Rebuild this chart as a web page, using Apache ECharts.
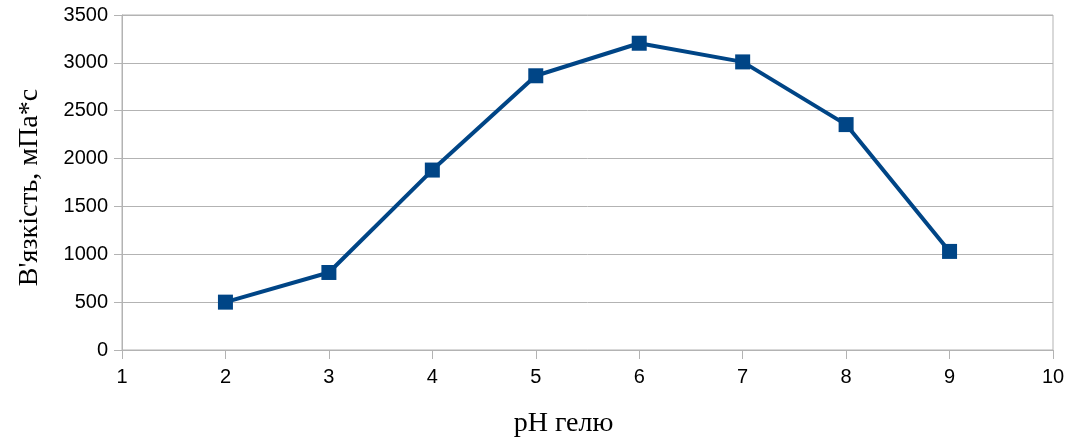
<!DOCTYPE html>
<html>
<head>
<meta charset="utf-8">
<script src="https://cdn.jsdelivr.net/npm/echarts@6/dist/echarts.min.js"></script>
<style>
  html, body { margin: 0; padding: 0; background: #fff; }
  #chart { width: 1072px; height: 439px; }
</style>
</head>
<body>
<div id="chart"></div>
<script>
// дані з графіка
var phValues = [2, 3, 4, 5, 6, 7, 8, 9];
var viscosity = [500, 810, 1880, 2865, 3205, 3010, 2355, 1030];
var xName = 'pH гелю';
var yName = "В'язкість, мПа*с";

var chart = echarts.init(document.getElementById('chart'));

var points = phValues.map(function (x, i) { return [x, viscosity[i]]; });

var option = {
    animation: false,
    backgroundColor: '#ffffff',
    grid: {
        left: 122, right: 19, top: 15, bottom: 89,
        outerBoundsMode: 'none',
        show: true, borderColor: '#b3b3b3', borderWidth: 1
    },
    xAxis: {
        type: 'value',
        min: 1, max: 10, interval: 1,
        name: xName,
        nameLocation: 'middle',
        nameGap: 60,
        nameTextStyle: { fontFamily: 'Liberation Serif', fontSize: 28, color: '#000', padding: [0, 48, 0, 0] },
        axisLine: { show: true, lineStyle: { color: '#b3b3b3', width: 1 } },
        axisTick: { show: true, length: 9, lineStyle: { color: '#b3b3b3' } },
        axisLabel: { fontFamily: 'Liberation Sans', fontSize: 20, color: '#000', margin: 17 },
        splitLine: { show: false }
    },
    yAxis: {
        type: 'value',
        min: 0, max: 3500, interval: 500,
        name: yName,
        nameLocation: 'middle',
        nameRotate: 90,
        nameGap: 78,
        nameTextStyle: { fontFamily: 'Liberation Serif', fontSize: 28, color: '#000', padding: [0, 10, 0, 0] },
        axisLine: { show: true, lineStyle: { color: '#b3b3b3', width: 1 } },
        axisTick: { show: true, length: 8, lineStyle: { color: '#b3b3b3' } },
        axisLabel: {
            fontFamily: 'Liberation Sans', fontSize: 20, color: '#000', margin: 14,
            formatter: function (v) { return String(v); }
        },
        splitLine: { show: true, lineStyle: { color: '#b3b3b3', width: 1 } }
    },
    series: [{
        type: 'line',
        data: points,
        symbol: 'rect',
        symbolSize: 15,
        lineStyle: { color: '#004586', width: 4 },
        itemStyle: { color: '#004586' }
    }]
};

chart.setOption(option);
</script>
</body>
</html>
